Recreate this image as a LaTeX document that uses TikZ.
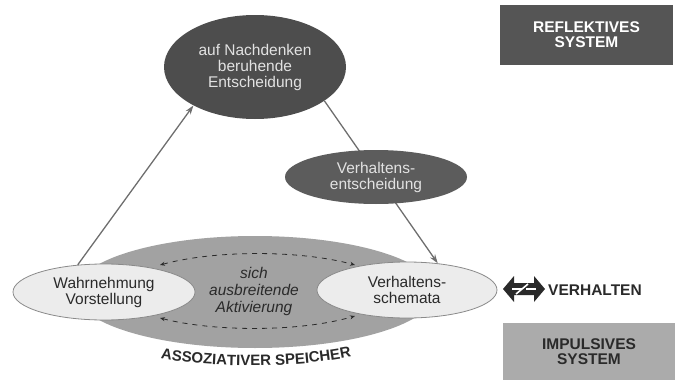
\documentclass[tikz,border=0pt]{standalone}
\usepackage{fontspec}
\setmainfont{Liberation Sans}
\usetikzlibrary{shapes.geometric,arrows.meta,decorations.text}
\definecolor{darkfill}{HTML}{4D4D4D}
\definecolor{midfill}{HTML}{5C5C5C}
\definecolor{assocfill}{HTML}{A2A2A2}
\definecolor{lightfill}{HTML}{ECECEC}
\definecolor{lightedge}{HTML}{8A8A8A}
\definecolor{lighttext}{HTML}{E2E2E2}
\definecolor{txt}{HTML}{2A2A2A}
\definecolor{arrowgray}{HTML}{6E6E6E}
\definecolor{boxdark}{HTML}{555555}
\definecolor{boxlight}{HTML}{ABABAB}
\begin{document}
\begin{tikzpicture}[x=1pt,y=-1pt,
  ell/.style={ellipse, inner sep=0pt, align=center, font=\fontsize{15.5}{16}\selectfont},
  darkell/.style={ell, fill=darkfill, text=lighttext},
  lightell/.style={ell, fill=lightfill, draw=lightedge, line width=0.8pt, text=txt},
  conn/.style={draw=arrowgray, line width=1.3pt, -{Stealth[length=9pt,width=6pt]}},
  spread/.style={draw=txt, line width=0.8pt, dash pattern=on 5pt off 5pt, {Stealth[length=5pt,width=4pt]}-{Stealth[length=5pt,width=4pt]}},
  sysbox/.style={inner sep=0pt, align=center, font=\fontsize{15.5}{15}\selectfont\bfseries}
]
\useasboundingbox (0,0) rectangle (681,380);

% reflective decision
\node[darkell, minimum width=182, minimum height=104] (refl) at (255,67) {auf Nachdenken\\beruhende\\Entscheidung};

% associative store
\node[ell, fill=assocfill, minimum width=360, minimum height=112] (assoc) at (255,292) {};
\node[lightell, minimum width=182, minimum height=56] (wahr) at (104,292) {Wahrnehmung\\Vorstellung};
\node[lightell, minimum width=180, minimum height=56] (schema) at (407,290) {Verhaltens-\\schemata};

% spreading activation
\node[align=center, text=txt, font=\fontsize{15.5}{17}\selectfont\itshape] (act) at (254,291) {sich\\ausbreitende\\Aktivierung};
\coordinate (ul) at (160,265);
\coordinate (ur) at (355,265);
\coordinate (ll) at (160,318);
\coordinate (lr) at (355,316);
\draw[spread] (ul) .. controls (215,250) and (300,250) .. (ur);
\draw[spread] (ll) .. controls (215,332) and (300,332) .. (lr);

% label along the bottom of the store
\coordinate (as1) at (148,356);
\coordinate (as2) at (364,354);
\path[decorate, decoration={text along path, text align=center,
  text={|\fontsize{15}{16}\selectfont\bfseries\color{txt}|ASSOZIATIVER SPEICHER}}]
  (as1) .. controls (205,369) and (305,369) .. (as2);

% connectors
\draw[conn] (wahr.134) -- (refl.212);
\draw[conn] (refl.334) -- (schema.41);

% behaviour decision (on top of the connector)
\node[ell, fill=midfill, text=lighttext, minimum width=182, minimum height=54] (vent) at (376,177) {Verhaltens-\\entscheidung};

% behaviour icon and label
\fill[txt] (503,289) -- (514,276) -- (514,283) -- (534,283) -- (534,276) -- (545,289) -- (534,302) -- (534,295) -- (514,295) -- (514,302) -- cycle;
\draw[white, line width=1.6pt] (516,294) -- (528,284);
\draw[white, line width=1.2pt] (512,289) -- (522,289);
\draw[white, line width=1.2pt] (526,289) -- (536,289);
\node[anchor=west, inner sep=0pt, text=txt, font=\fontsize{15.5}{16}\selectfont\bfseries] (verh) at (548,290) {VERHALTEN};

% system boxes
\node[sysbox, fill=boxdark, text=white, minimum width=173, minimum height=60] (rsys) at (586.5,35) {REFLEKTIVES\\SYSTEM};
\node[sysbox, fill=boxlight, text=txt, minimum width=172, minimum height=57] (isys) at (589,351.5) {IMPULSIVES\\SYSTEM};
\end{tikzpicture}
\end{document}
